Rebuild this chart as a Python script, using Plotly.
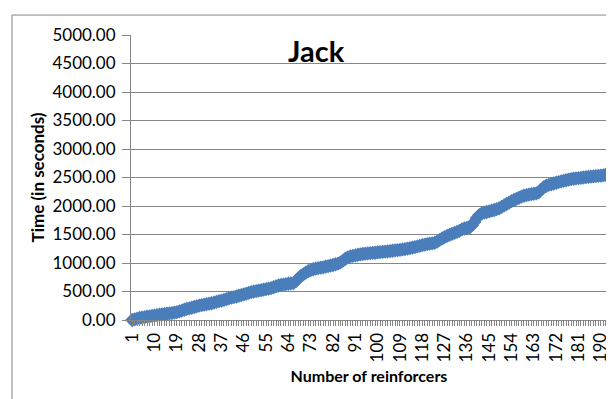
import plotly.graph_objects as go

# reinforcer number and cumulative time (s)
reinforcers = list(range(1, 193))
time_sec = [
    0, 12, 25, 35, 42, 50, 58, 64, 72, 78,
    85, 92, 98, 104, 110, 116, 122, 130, 138, 150,
    165, 180, 195, 205, 215, 228, 240, 252, 262, 270,
    278, 286, 294, 305, 318, 330, 340, 352, 365, 380,
    392, 402, 412, 425, 437, 450, 462, 475, 488, 498,
    508, 516, 524, 532, 540, 550, 560, 575, 590, 605,
    615, 622, 630, 636, 642, 648, 680, 730, 775, 800,
    830, 855, 875, 890, 900, 910, 918, 925, 935, 945,
    955, 965, 978, 990, 1010, 1040, 1075, 1100, 1115, 1125,
    1135, 1145, 1152, 1158, 1163, 1168, 1172, 1176, 1180, 1185,
    1190, 1195, 1200, 1205, 1210, 1215, 1220, 1225, 1230, 1238,
    1245, 1252, 1260, 1270, 1280, 1290, 1300, 1312, 1322, 1332,
    1340, 1345, 1352, 1375, 1405, 1430, 1455, 1475, 1495, 1512,
    1528, 1545, 1565, 1590, 1605, 1615, 1622, 1660, 1720, 1790,
    1840, 1870, 1885, 1895, 1905, 1918, 1930, 1945, 1960, 1985,
    2010, 2035, 2060, 2085, 2105, 2125, 2145, 2165, 2180, 2192,
    2200, 2208, 2215, 2222, 2240, 2290, 2330, 2355, 2370, 2382,
    2395, 2408, 2420, 2432, 2442, 2452, 2462, 2470, 2478, 2485,
    2490, 2495, 2500, 2505, 2510, 2515, 2520, 2524, 2528, 2532,
    2538, 2548,
]
x_ticks = list(range(1, 193, 9))
y_ticks = list(range(0, 5001, 500))

blue = '#4A7EBB'
grey = '#868686'
font = 'Lato'

fig = go.Figure(go.Scatter(
    x=reinforcers, y=time_sec, mode='lines+markers',
    line=dict(color=blue, width=3),
    marker=dict(symbol='diamond', size=11, color=blue),
    cliponaxis=False, showlegend=False,
))

fig.update_layout(
    width=614, height=399,
    margin=dict(l=123, r=15, t=27, b=87),
    paper_bgcolor='white', plot_bgcolor='white',
    font=dict(family=font, size=17, color='black'),
    xaxis=dict(
        range=[0.5, 192.5], tickvals=x_ticks, ticktext=[str(v) for v in x_ticks],
        tickangle=-90, ticks='outside', ticklen=5, tickcolor=grey,
        minor=dict(ticks='outside', dtick=1, tick0=1, ticklen=5, tickcolor=grey),
        showline=True, linecolor=grey, linewidth=1, showgrid=False, zeroline=False,
        tickfont=dict(size=17), automargin=False,
        title=dict(text='<b>Number of reinforcers</b>', font=dict(size=16), standoff=9),
    ),
    yaxis=dict(
        range=[0, 5000], tickvals=y_ticks, tickformat='.2f',
        ticks='outside', ticklen=8, tickcolor=grey, ticklabelstandoff=3,
        showline=True, linecolor=grey, linewidth=1,
        showgrid=True, gridcolor=grey, gridwidth=1, zeroline=False,
        tickfont=dict(size=17), automargin=False,
        title=dict(text='<b>Time (in seconds)</b>', font=dict(size=17), standoff=3),
    ),
    annotations=[dict(
        text='<b>Jack</b>', x=0.39, y=0.947, xref='paper', yref='paper',
        xanchor='center', yanchor='middle', showarrow=False,
        font=dict(family=font, size=29, color='black'),
    )],
    shapes=[
        dict(type='line', xref='paper', yref='paper', x0=-0.25, x1=1.1, y0=1.07, y1=1.07,
             line=dict(color=grey, width=1)),
        dict(type='line', xref='paper', yref='paper', x0=-0.25, x1=-0.25, y0=1.07, y1=-0.4,
             line=dict(color=grey, width=1)),
    ],
)

fig.write_html("out.html")
